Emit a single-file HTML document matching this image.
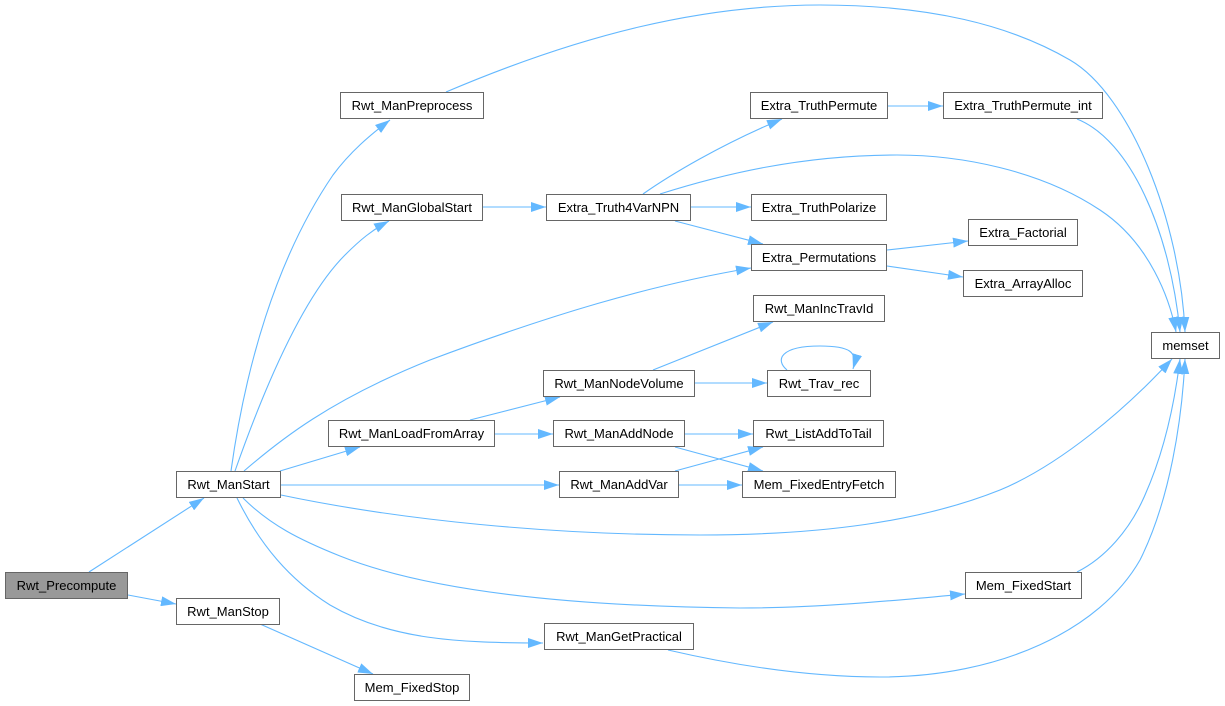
<!DOCTYPE html>
<html>
<head>
<meta charset="utf-8">
<style>
html,body{margin:0;padding:0;background:#fff;}
svg{display:block;}
text{font-family:"Liberation Sans",Arial,sans-serif;font-size:13px;fill:#000;}
.e{fill:none;stroke:#63b8ff;stroke-width:1.1;}
.n{fill:#fff;stroke:#666;stroke-width:1;}
</style>
</head>
<body>
<svg width="1225" height="706" viewBox="0 0 1225 706" xmlns="http://www.w3.org/2000/svg">
<defs>
<marker id="a" markerUnits="userSpaceOnUse" markerWidth="15" markerHeight="10" viewBox="0 0 15 10" refX="15" refY="5" orient="auto">
<path d="M0,0 L15,5 L0,10 z" fill="#63b8ff"/>
</marker>
</defs>

<g class="edges">
<path class="e" marker-end="url(#a)" d="M89,572 L204,498"/>
<path class="e" marker-end="url(#a)" d="M128,595 L176,604"/>
<path class="e" marker-end="url(#a)" d="M260,624 L373,674"/>
<path class="e" marker-end="url(#a)" d="M231,471 C245,370 275,260 333,175 C350,152 370,135 390,120"/>
<path class="e" marker-end="url(#a)" d="M235,471 C260,400 300,300 345,255 C360,240 372,230 389,221"/>
<path class="e" marker-end="url(#a)" d="M244,471 C280,440 330,400 430,360 C550,315 650,285 751,268"/>
<path class="e" marker-end="url(#a)" d="M280,471 L360,447"/>
<path class="e" marker-end="url(#a)" d="M281,485 L559,485"/>
<path class="e" marker-end="url(#a)" d="M281,495 C400,520 550,535 700,535 C820,535 920,522 1000,490 C1060,465 1125,410 1172,359"/>
<path class="e" marker-end="url(#a)" d="M243,498 C270,525 300,540 340,556 C420,588 550,606 740,608 C820,608 900,600 965,594"/>
<path class="e" marker-end="url(#a)" d="M237,498 C260,545 290,580 330,605 C390,640 460,643 543,643"/>
<path class="e" marker-end="url(#a)" d="M446,92 C580,35 700,5 820,5 C930,5 1010,25 1070,60 C1130,95 1180,220 1185,332"/>
<path class="e" marker-end="url(#a)" d="M483,207 L546,207"/>
<path class="e" marker-end="url(#a)" d="M643,194 C670,175 720,145 782,119"/>
<path class="e" marker-end="url(#a)" d="M660,194 C720,175 800,155 897,155 C960,155 1040,170 1100,210 C1150,243 1170,300 1176,332"/>
<path class="e" marker-end="url(#a)" d="M691,207 L751,207"/>
<path class="e" marker-end="url(#a)" d="M675,221 L763,244"/>
<path class="e" marker-end="url(#a)" d="M888,106 L943,106"/>
<path class="e" marker-end="url(#a)" d="M1077,119 C1130,140 1170,230 1180,332"/>
<path class="e" marker-end="url(#a)" d="M887,250 L968,241"/>
<path class="e" marker-end="url(#a)" d="M887,266 L963,277"/>
<path class="e" marker-end="url(#a)" d="M470,420 L560,397"/>
<path class="e" marker-end="url(#a)" d="M495,434 L553,434"/>
<path class="e" marker-end="url(#a)" d="M653,370 L773,322"/>
<path class="e" marker-end="url(#a)" d="M695,383 L767,383"/>
<path class="e" marker-end="url(#a)" d="M787,370 C775,360 780,346 820,346 C850,346 858,352 853,369"/>
<path class="e" marker-end="url(#a)" d="M685,434 L753,434"/>
<path class="e" marker-end="url(#a)" d="M675,447 L763,471"/>
<path class="e" marker-end="url(#a)" d="M675,471 L763,447"/>
<path class="e" marker-end="url(#a)" d="M679,485 L742,485"/>
<path class="e" marker-end="url(#a)" d="M1077,572 C1105,558 1130,530 1145,495 C1165,450 1175,400 1180,359"/>
<path class="e" marker-end="url(#a)" d="M668,650 C720,662 800,677 880,677 C1000,677 1100,630 1140,560 C1170,500 1182,420 1185,359"/>
</g>

<g class="nodes">
<rect x="5.5" y="572.5" width="122" height="26" fill="#999999" stroke="#666"/>
<text x="66.5" y="590" text-anchor="middle">Rwt_Precompute</text>

<rect class="n" x="176.5" y="471.5" width="104" height="26"/>
<text x="228.5" y="489" text-anchor="middle">Rwt_ManStart</text>

<rect class="n" x="176.5" y="598.5" width="103" height="26"/>
<text x="228" y="616" text-anchor="middle">Rwt_ManStop</text>

<rect class="n" x="340.5" y="92.5" width="143" height="26"/>
<text x="412" y="110" text-anchor="middle">Rwt_ManPreprocess</text>

<rect class="n" x="341.5" y="194.5" width="141" height="26"/>
<text x="412" y="212" text-anchor="middle">Rwt_ManGlobalStart</text>

<rect class="n" x="546.5" y="194.5" width="144" height="26"/>
<text x="618.5" y="212" text-anchor="middle">Extra_Truth4VarNPN</text>

<rect class="n" x="750.5" y="92.5" width="137" height="26"/>
<text x="819" y="110" text-anchor="middle">Extra_TruthPermute</text>

<rect class="n" x="943.5" y="92.5" width="159" height="26"/>
<text x="1023" y="110" text-anchor="middle">Extra_TruthPermute_int</text>

<rect class="n" x="751.5" y="194.5" width="135" height="26"/>
<text x="819" y="212" text-anchor="middle">Extra_TruthPolarize</text>

<rect class="n" x="968.5" y="219.5" width="109" height="26"/>
<text x="1023" y="237" text-anchor="middle">Extra_Factorial</text>

<rect class="n" x="751.5" y="244.5" width="135" height="26"/>
<text x="819" y="262" text-anchor="middle">Extra_Permutations</text>

<rect class="n" x="963.5" y="270.5" width="119" height="26"/>
<text x="1023" y="288" text-anchor="middle">Extra_ArrayAlloc</text>

<rect class="n" x="753.5" y="295.5" width="131" height="26"/>
<text x="819" y="313" text-anchor="middle">Rwt_ManIncTravId</text>

<rect class="n" x="1151.5" y="332.5" width="68" height="26"/>
<text x="1185.5" y="350" text-anchor="middle">memset</text>

<rect class="n" x="543.5" y="370.5" width="151" height="26"/>
<text x="619" y="388" text-anchor="middle">Rwt_ManNodeVolume</text>

<rect class="n" x="767.5" y="370.5" width="103" height="26"/>
<text x="819" y="388" text-anchor="middle">Rwt_Trav_rec</text>

<rect class="n" x="328.5" y="420.5" width="166" height="26"/>
<text x="411.5" y="438" text-anchor="middle">Rwt_ManLoadFromArray</text>

<rect class="n" x="553.5" y="420.5" width="131" height="26"/>
<text x="619" y="438" text-anchor="middle">Rwt_ManAddNode</text>

<rect class="n" x="753.5" y="420.5" width="130" height="26"/>
<text x="818.5" y="438" text-anchor="middle">Rwt_ListAddToTail</text>

<rect class="n" x="559.5" y="471.5" width="119" height="26"/>
<text x="619" y="489" text-anchor="middle">Rwt_ManAddVar</text>

<rect class="n" x="742.5" y="471.5" width="153" height="26"/>
<text x="819" y="489" text-anchor="middle">Mem_FixedEntryFetch</text>

<rect class="n" x="965.5" y="572.5" width="116" height="26"/>
<text x="1023.5" y="590" text-anchor="middle">Mem_FixedStart</text>

<rect class="n" x="544.5" y="623.5" width="149" height="26"/>
<text x="619" y="641" text-anchor="middle">Rwt_ManGetPractical</text>

<rect class="n" x="354.5" y="674.5" width="115" height="26"/>
<text x="412" y="692" text-anchor="middle">Mem_FixedStop</text>
</g>
</svg>
</body>
</html>
